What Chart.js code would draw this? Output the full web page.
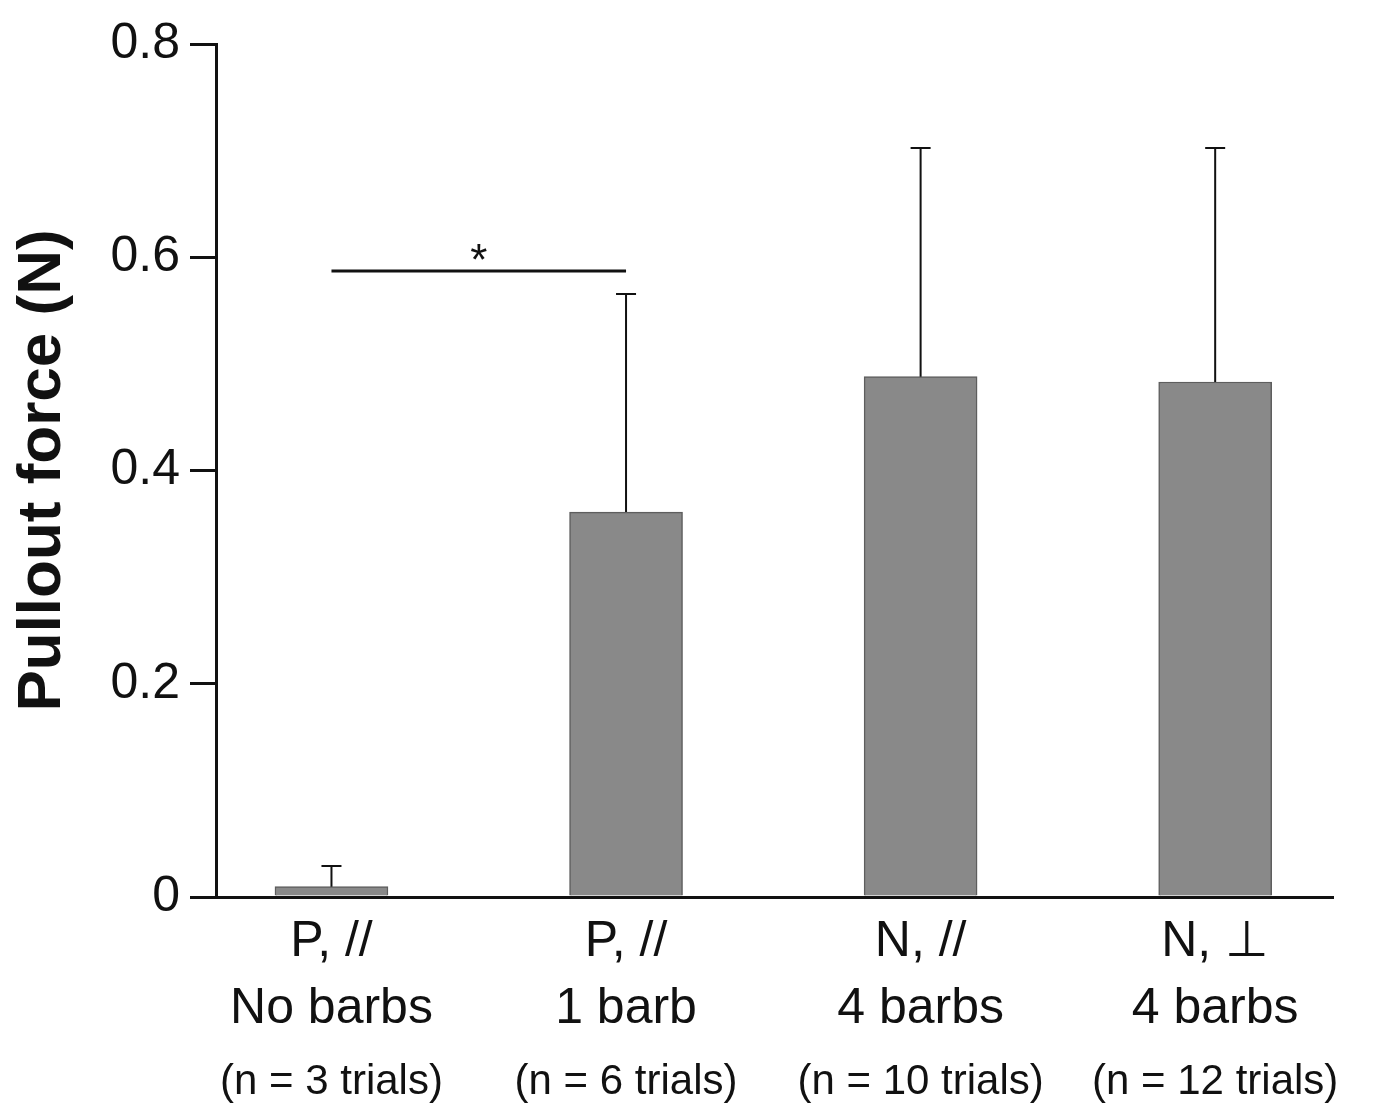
<!DOCTYPE html>
<html>
<head>
<meta charset="utf-8">
<script src="https://cdn.jsdelivr.net/npm/chart.js@4.4.0/dist/chart.umd.min.js"></script>
<style>
  body { margin: 0; background: #fff; }
</style>
</head>
<body>
<canvas id="chart" width="1378" height="1106"></canvas>
<script>
const groups = [['P, //', 'No barbs'], ['P, //', '1 barb'], ['N, //', '4 barbs'], ['N, \u22A5', '4 barbs']];
const trials = ['(n = 3 trials)', '(n = 6 trials)', '(n = 10 trials)', '(n = 12 trials)'];
const meanForce = [0.0097, 0.361, 0.488, 0.483];
const sdForce = [0.0193, 0.2045, 0.2145, 0.2195];
const yTicks = [0, 0.2, 0.4, 0.6, 0.8];
const sigPair = [0, 1];
const sigLevel = 0.587;
const sigMark = '*';

const FONT = '"Liberation Sans", Arial, sans-serif';
const xPos = groups.map((g, i) => i + 1);

const errorBars = {
  id: 'errorBars',
  afterDatasetsDraw(chart) {
    const ctx = chart.ctx;
    const y = chart.scales.y;
    const meta = chart.getDatasetMeta(0);
    ctx.save();
    ctx.strokeStyle = '#111';
    ctx.lineWidth = 2;
    meta.data.forEach((bar, i) => {
      const top = y.getPixelForValue(meanForce[i] + sdForce[i]);
      const base = y.getPixelForValue(meanForce[i]);
      ctx.beginPath();
      ctx.moveTo(bar.x, base);
      ctx.lineTo(bar.x, top);
      ctx.moveTo(bar.x - 10, top);
      ctx.lineTo(bar.x + 10, top);
      ctx.stroke();
    });
    // significance bracket
    const a = meta.data[sigPair[0]], b = meta.data[sigPair[1]];
    const sy = y.getPixelForValue(sigLevel);
    ctx.lineWidth = 3;
    ctx.beginPath();
    ctx.moveTo(a.x, sy);
    ctx.lineTo(b.x, sy);
    ctx.stroke();
    ctx.fillStyle = '#111';
    ctx.font = '44px ' + FONT;
    ctx.textAlign = 'center';
    ctx.textBaseline = 'alphabetic';
    ctx.fillText(sigMark, (a.x + b.x) / 2, sy + 4);
    ctx.restore();
  }
};

const setTicks = s => { s.ticks = xPos.map(v => ({ value: v })); };

new Chart(document.getElementById('chart'), {
  type: 'bar',
  data: {
    datasets: [{
      data: meanForce.map((v, i) => ({ x: xPos[i], y: v })),
      backgroundColor: '#898989',
      borderColor: '#5e5e5e',
      borderWidth: 1.5,
      barThickness: 113
    }]
  },
  options: {
    responsive: false,
    animation: false,
    layout: { padding: { top: 44, right: 45, left: 0, bottom: 0 } },
    plugins: { legend: { display: false }, tooltip: { enabled: false } },
    scales: {
      x: {
        type: 'linear',
        position: 'bottom',
        offset: false,
        min: 0.608,
        max: 4.40,
        afterBuildTicks: setTicks,
        afterFit: s => { s.height = 160; },
        grid: { display: false, drawTicks: false },
        border: { display: true, color: '#111', width: 3 },
        ticks: {
          autoSkip: false,
          maxRotation: 0,
          padding: 12,
          color: '#111',
          font: { family: FONT, size: 50, lineHeight: 1.34 },
          callback: v => groups[v - 1] || ''
        }
      },
      x2: {
        type: 'linear',
        position: 'bottom',
        offset: false,
        min: 0.608,
        max: 4.40,
        afterBuildTicks: setTicks,
        afterFit: s => { s.height = 49; },
        grid: { display: false, drawTicks: false },
        border: { display: false },
        ticks: {
          autoSkip: false,
          maxRotation: 0,
          padding: 0,
          color: '#111',
          font: { family: FONT, size: 42, lineHeight: 1.2 },
          callback: v => trials[v - 1] || ''
        }
      },
      y: {
        min: 0,
        max: 0.8,
        afterBuildTicks: s => { s.ticks = yTicks.map(v => ({ value: v })); },
        afterFit: s => { s.width = 216; },
        grid: { drawOnChartArea: false, drawTicks: true, tickLength: 26, lineWidth: 3, color: '#111' },
        border: { display: true, color: '#111', width: 3 },
        ticks: {
          padding: 10,
          color: '#111',
          font: { family: FONT, size: 50 },
          callback: v => v === 0 ? '0' : v.toFixed(1)
        },
        title: {
          display: true,
          text: 'Pullout force (N)',
          color: '#111',
          padding: { top: 6, bottom: 0 },
          font: { family: FONT, size: 62, weight: 'bold' }
        }
      }
    }
  },
  plugins: [errorBars]
});
</script>
</body>
</html>
